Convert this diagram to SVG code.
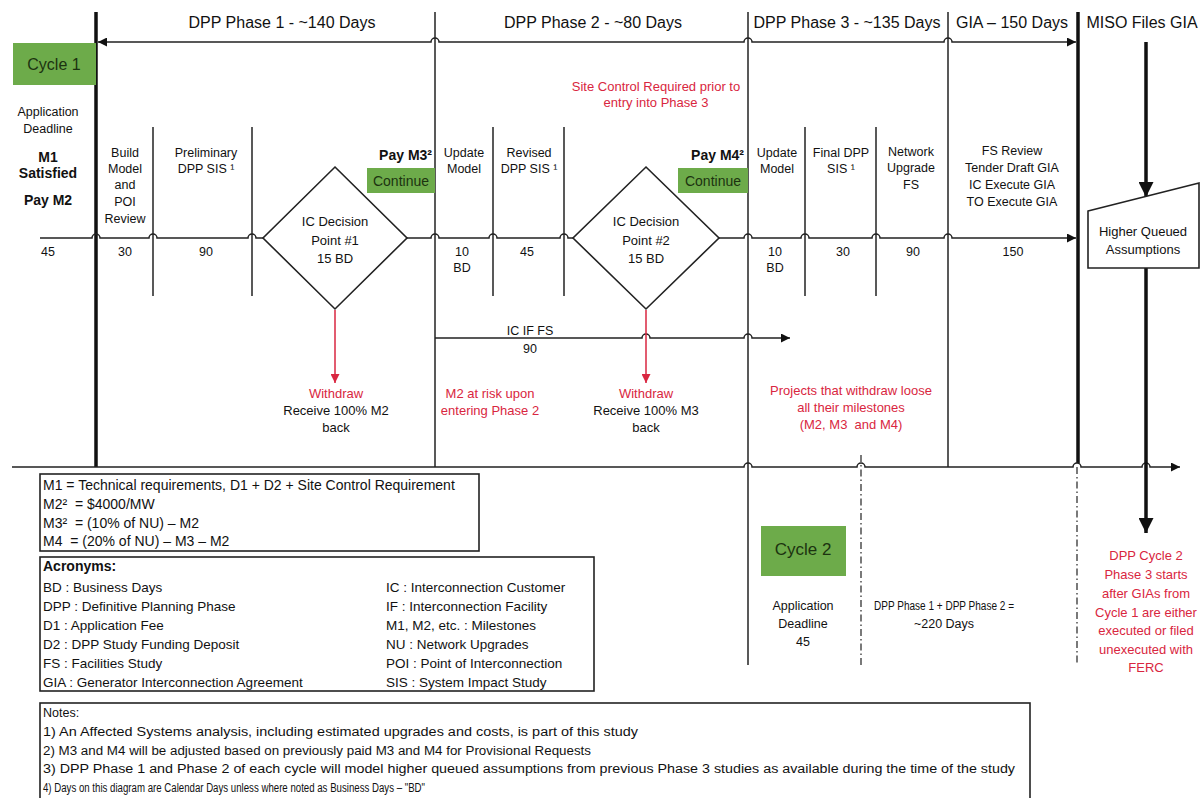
<svg xmlns="http://www.w3.org/2000/svg" width="1202" height="798" viewBox="0 0 1202 798">
<style>
text{font-family:"Liberation Sans",Arial,sans-serif;font-size:12.5px;fill:#111;text-anchor:middle}
.h{font-size:16px}
.b{font-weight:bold;font-size:14px}
.r{fill:#d92640;font-size:13px}
.l{text-anchor:start}
.m{font-size:13px}
.a{font-size:13.5px}
.k{font-size:14px}
.n{font-size:12.5px}
.g{fill:#1c3310;font-size:14px}
.ln{fill:none;stroke:#222;stroke-width:1.5}
.tk{fill:none;stroke:#111;stroke-width:3.5}
.rd{fill:none;stroke:#d92640;stroke-width:1.5}
.dd{fill:none;stroke:#333;stroke-width:1.3;stroke-dasharray:7 3 1.5 3}
.gr{fill:#6dab4a}
.box{fill:#fff;stroke:#222;stroke-width:1.6}
</style>
<defs>
<marker id="a" viewBox="0 0 10 10" refX="10" refY="5" markerWidth="10" markerHeight="9" markerUnits="userSpaceOnUse" orient="auto-start-reverse"><path d="M0,0 L10,5 L0,10 z" fill="#111"/></marker>
<marker id="ar" viewBox="0 0 10 10" refX="10" refY="5" markerWidth="10" markerHeight="9" markerUnits="userSpaceOnUse" orient="auto"><path d="M0,0 L10,5 L0,10 z" fill="#d92640"/></marker>
<marker id="ab" viewBox="0 0 10 10" refX="10" refY="5" markerWidth="16" markerHeight="15" markerUnits="userSpaceOnUse" orient="auto"><path d="M0,0 L10,5 L0,10 z" fill="#111"/></marker>
</defs>
<rect width="1202" height="798" fill="#fff"/>

<g id="headers">
<text class="h" x="282" y="28">DPP Phase 1 - ~140 Days</text>
<text class="h" x="593" y="28">DPP Phase 2 - ~80 Days</text>
<text class="h" x="847" y="28">DPP Phase 3 - ~135 Days</text>
<text class="h" x="1012" y="28">GIA – 150 Days</text>
<text class="h" x="1142" y="28">MISO Files GIA</text>
</g>

<g id="connectors">
<line class="tk" x1="96" y1="12" x2="96" y2="467"/>
<line class="ln" x1="435" y1="12" x2="435" y2="467"/>
<line class="ln" x1="748" y1="12" x2="748" y2="665"/>
<line class="ln" x1="948" y1="12" x2="948" y2="467"/>
<line class="tk" x1="1078" y1="12" x2="1078" y2="463"/>
<line class="ln" x1="153" y1="127" x2="153" y2="296"/>
<line class="ln" x1="252" y1="127" x2="252" y2="296"/>
<line class="ln" x1="493" y1="127" x2="493" y2="296"/>
<line class="ln" x1="564" y1="127" x2="564" y2="296"/>
<line class="ln" x1="805" y1="127" x2="805" y2="296"/>
<line class="ln" x1="876" y1="127" x2="876" y2="296"/>
<line class="dd" x1="861" y1="455" x2="861" y2="665"/>
<line class="dd" x1="1077" y1="467" x2="1077" y2="665"/>
<path class="ln" marker-start="url(#a)" marker-end="url(#a)" d="M98 42 L431 42 A4 4 0 0 1 439 42 L744 42 A4 4 0 0 1 752 42 L944 42 A4 4 0 0 1 952 42 L1076 42"/>
<path class="ln" marker-end="url(#a)" d="M40 238 L92 238 A4 4 0 0 1 100 238 L149 238 A4 4 0 0 1 157 238 L248 238 A4 4 0 0 1 256 238 L431 238 A4 4 0 0 1 439 238 L489 238 A4 4 0 0 1 497 238 L560 238 A4 4 0 0 1 568 238 L744 238 A4 4 0 0 1 752 238 L801 238 A4 4 0 0 1 809 238 L872 238 A4 4 0 0 1 880 238 L944 238 A4 4 0 0 1 952 238 L1076 238"/>
<path class="ln" marker-end="url(#a)" d="M435 338 L642 338 A4 4 0 0 1 650 338 L744 338 A4 4 0 0 1 752 338 L790 338"/>
<path class="ln" marker-end="url(#a)" d="M12 467 L744 467 A4 4 0 0 1 752 467 L857 467 A4 4 0 0 1 865 467 L1073 467 A4 4 0 0 1 1081 467 L1142 467 A4 4 0 0 1 1150 467 L1180 467"/>
<line class="rd" marker-end="url(#ar)" x1="335" y1="310" x2="335" y2="383"/>
<line class="rd" marker-end="url(#ar)" x1="646" y1="310" x2="646" y2="383"/>
<line class="tk" stroke-width="3" marker-end="url(#ab)" x1="1146" y1="42" x2="1146" y2="197"/>
<line class="tk" stroke-width="3" marker-end="url(#ab)" x1="1146" y1="268" x2="1146" y2="533"/>
</g>

<g id="cycle1">
<rect class="gr" x="13" y="43" width="83" height="42"/>
<text class="g" x="54" y="70" style="font-size:16px">Cycle 1</text>
</g>

<g id="app-deadline">
<text x="48" y="116">Application</text>
<text x="48" y="133">Deadline</text>
<text class="b" x="48" y="162">M1</text>
<text class="b" x="48" y="178">Satisfied</text>
<text class="b" x="48" y="205">Pay M2</text>
<text x="48" y="256">45</text>
</g>

<g id="build-model">
<text x="125" y="157">Build</text>
<text x="125" y="173">Model</text>
<text x="125" y="189">and</text>
<text x="125" y="206">POI</text>
<text x="125" y="223">Review</text>
<text x="125" y="256">30</text>
</g>

<g id="prelim-sis">
<text x="206" y="157">Preliminary</text>
<text x="206" y="173">DPP SIS ¹</text>
<text x="206" y="256">90</text>
</g>

<g id="decision1">
<polygon class="box" points="335,167 407,238 335,309 263,238"/>
<text class="m" x="335" y="226">IC Decision</text>
<text class="m" x="335" y="245">Point #1</text>
<text class="m" x="335" y="263">15 BD</text>
</g>

<g id="continue1">
<text class="b" x="432" y="160" style="text-anchor:end">Pay M3²</text>
<rect class="gr" x="367" y="168" width="68" height="25"/>
<text class="g" x="401" y="186">Continue</text>
</g>

<g id="withdraw1">
<text class="r" x="336" y="398">Withdraw</text>
<text class="m" x="336" y="415">Receive 100% M2</text>
<text class="m" x="336" y="432">back</text>
</g>

<g id="update-model-2">
<text x="464" y="157">Update</text>
<text x="464" y="173">Model</text>
<text x="462" y="256">10</text>
<text x="462" y="272">BD</text>
</g>

<g id="revised-sis">
<text x="529" y="157">Revised</text>
<text x="529" y="173">DPP SIS ¹</text>
<text x="527" y="256">45</text>
</g>

<g id="site-control">
<text class="r" x="656" y="91">Site Control Required prior to</text>
<text class="r" x="656" y="107">entry into Phase 3</text>
</g>

<g id="decision2">
<polygon class="box" points="646,167 719,238 646,309 573,238"/>
<text class="m" x="646" y="226">IC Decision</text>
<text class="m" x="646" y="245">Point #2</text>
<text class="m" x="646" y="263">15 BD</text>
</g>

<g id="continue2">
<text class="b" x="744" y="160" style="text-anchor:end">Pay M4²</text>
<rect class="gr" x="678" y="168" width="70" height="25"/>
<text class="g" x="713" y="186">Continue</text>
</g>

<g id="ic-if-fs">
<text x="530" y="335">IC IF FS</text>
<text x="530" y="353">90</text>
</g>

<g id="m2-risk">
<text class="r" x="490" y="398">M2 at risk upon</text>
<text class="r" x="490" y="415">entering Phase 2</text>
</g>

<g id="withdraw2">
<text class="r" x="646" y="398">Withdraw</text>
<text class="m" x="646" y="415">Receive 100% M3</text>
<text class="m" x="646" y="432">back</text>
</g>

<g id="update-model-3">
<text x="777" y="157">Update</text>
<text x="777" y="173">Model</text>
<text x="775" y="256">10</text>
<text x="775" y="272">BD</text>
</g>

<g id="final-sis">
<text x="841" y="157">Final DPP</text>
<text x="841" y="173">SIS ¹</text>
<text x="843" y="256">30</text>
</g>

<g id="network-fs">
<text x="911" y="156">Network</text>
<text x="911" y="172">Upgrade</text>
<text x="911" y="189">FS</text>
<text x="913" y="256">90</text>
</g>

<g id="gia">
<text x="1012" y="155">FS Review</text>
<text x="1012" y="172">Tender Draft GIA</text>
<text x="1012" y="189">IC Execute GIA</text>
<text x="1012" y="206">TO Execute GIA</text>
<text x="1013" y="256">150</text>
</g>

<g id="withdraw3">
<text class="r" x="851" y="395">Projects that withdraw loose</text>
<text class="r" x="851" y="412">all their milestones</text>
<text class="r" x="851" y="429" xml:space="preserve">(M2, M3  and M4)</text>
</g>

<g id="higher-queued">
<polygon class="box" points="1088,211 1199,183 1199,268 1088,268"/>
<text class="m" x="1143" y="236">Higher Queued</text>
<text class="m" x="1143" y="254">Assumptions</text>
</g>

<g id="milestones">
<rect class="box" x="40" y="474" width="439" height="77"/>
<text class="k l" x="43" y="490">M1 = Technical requirements, D1 + D2 + Site Control Requirement</text>
<text class="k l" x="43" y="509" xml:space="preserve">M2²  = $4000/MW</text>
<text class="k l" x="43" y="528" xml:space="preserve">M3²  = (10% of NU) – M2</text>
<text class="k l" x="43" y="546" xml:space="preserve">M4  = (20% of NU) – M3 – M2</text>
</g>

<g id="acronyms">
<rect class="box" x="40" y="557" width="554" height="134"/>
<text class="b l" x="43" y="571">Acronyms:</text>
<text class="a l" x="43" y="592">BD : Business Days</text>
<text class="a l" x="43" y="611">DPP : Definitive Planning Phase</text>
<text class="a l" x="43" y="630">D1 : Application Fee</text>
<text class="a l" x="43" y="649">D2 : DPP Study Funding Deposit</text>
<text class="a l" x="43" y="668">FS : Facilities Study</text>
<text class="a l" x="43" y="687">GIA : Generator Interconnection Agreement</text>
<text class="a l" x="386" y="592">IC : Interconnection Customer</text>
<text class="a l" x="386" y="611">IF : Interconnection Facility</text>
<text class="a l" x="386" y="630">M1, M2, etc. : Milestones</text>
<text class="a l" x="386" y="649">NU : Network Upgrades</text>
<text class="a l" x="386" y="668">POI : Point of Interconnection</text>
<text class="a l" x="386" y="687">SIS : System Impact Study</text>
</g>

<g id="cycle2">
<rect class="gr" x="761" y="526" width="85" height="50"/>
<text class="g" x="803" y="555" style="font-size:17px">Cycle 2</text>
<text x="803" y="610">Application</text>
<text x="803" y="628">Deadline</text>
<text x="803" y="646">45</text>
</g>

<g id="phase12">
<text x="944" y="610" textLength="140" lengthAdjust="spacingAndGlyphs">DPP Phase 1 + DPP Phase 2 =</text>
<text x="944" y="628">~220 Days</text>
</g>

<g id="cycle2-note">
<text class="r" x="1146" y="560">DPP Cycle 2</text>
<text class="r" x="1146" y="579">Phase 3 starts</text>
<text class="r" x="1146" y="598">after GIAs from</text>
<text class="r" x="1146" y="617">Cycle 1 are either</text>
<text class="r" x="1146" y="635">executed or filed</text>
<text class="r" x="1146" y="654">unexecuted with</text>
<text class="r" x="1146" y="672">FERC</text>
</g>

<g id="notes">
<rect class="box" x="40" y="703" width="990" height="100"/>
<text class="n l" x="43" y="717">Notes:</text>
<text class="n l" x="43" y="736" textLength="595" lengthAdjust="spacingAndGlyphs">1) An Affected Systems analysis, including estimated upgrades and costs, is part of this study</text>
<text class="n l" x="43" y="755" textLength="548" lengthAdjust="spacingAndGlyphs">2) M3 and M4 will be adjusted based on previously paid M3 and M4 for Provisional Requests</text>
<text class="n l" x="43" y="773" textLength="972" lengthAdjust="spacingAndGlyphs">3) DPP Phase 1 and Phase 2 of each cycle will model higher queued assumptions from previous Phase 3 studies as available during the time of the study</text>
<text class="n l" x="43" y="792" textLength="382" lengthAdjust="spacingAndGlyphs">4) Days on this diagram are Calendar Days unless where noted as Business Days – "BD"</text>
</g>
</svg>
